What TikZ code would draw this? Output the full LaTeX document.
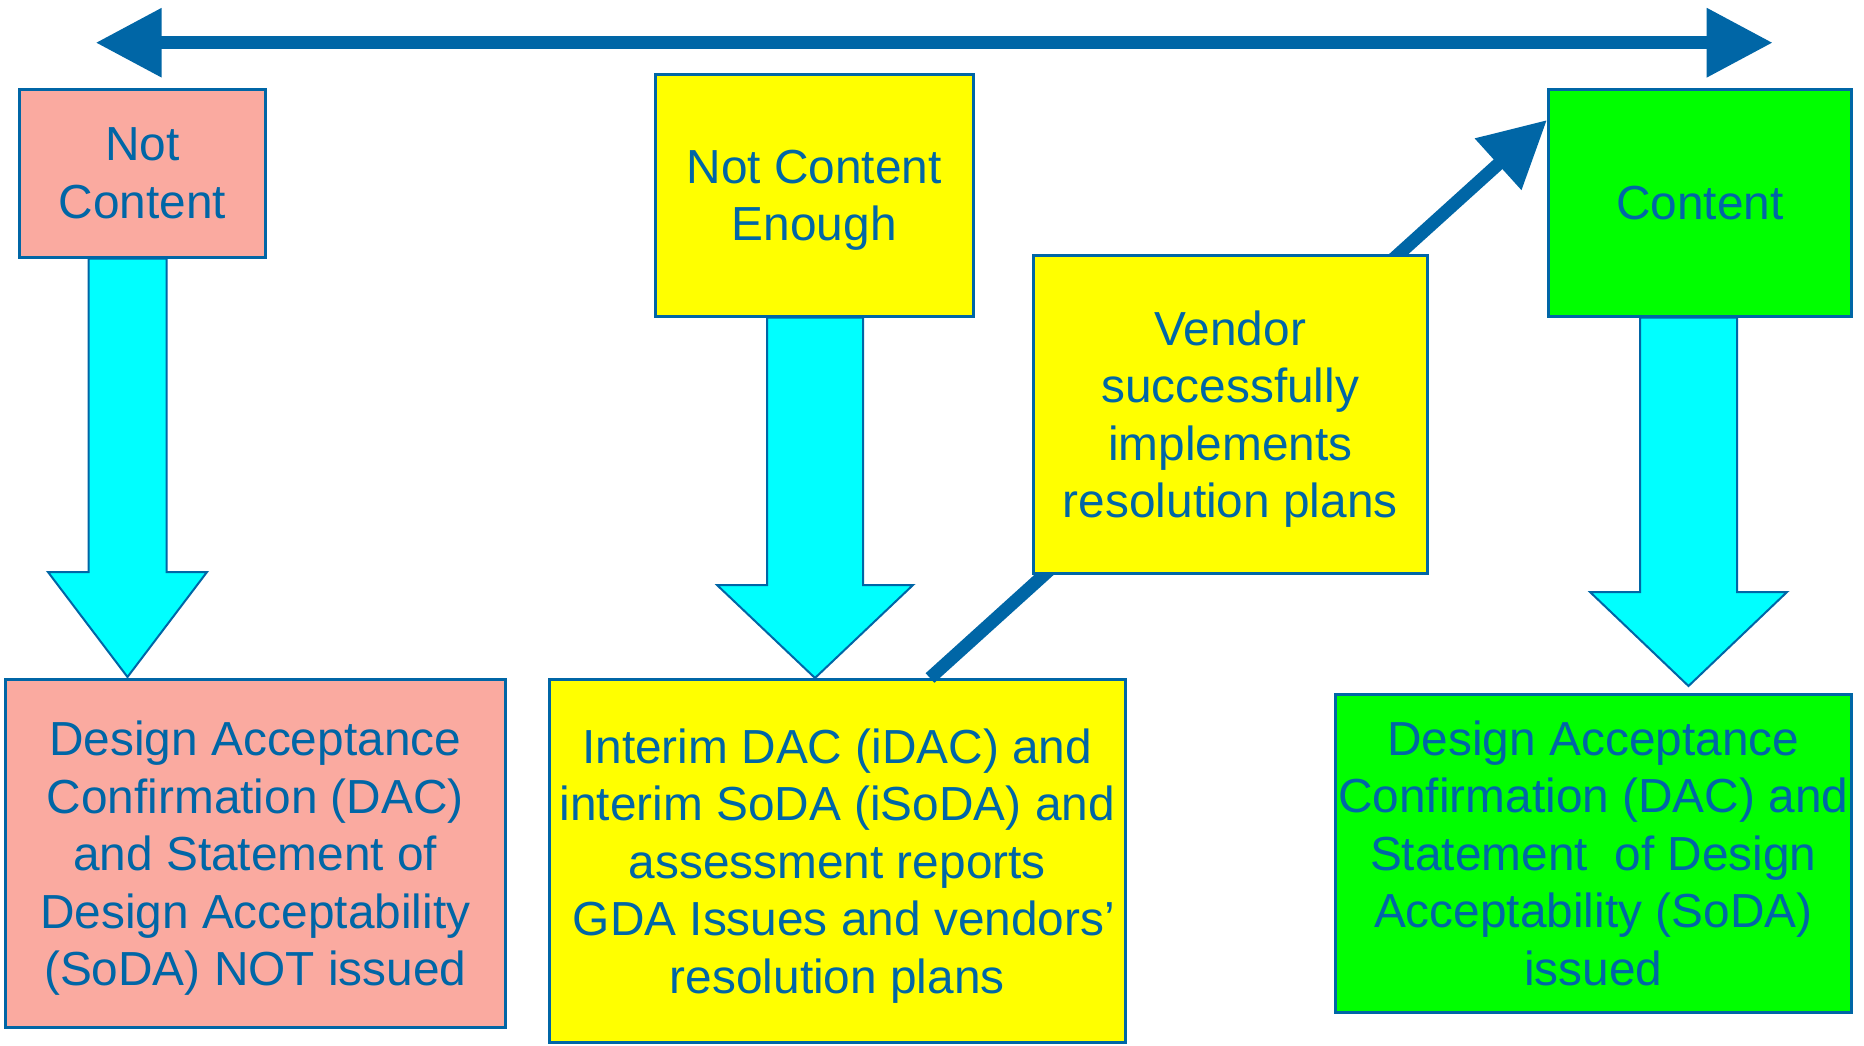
\documentclass[tikz,border=0pt]{standalone}
\usepackage{fontspec}
\setmainfont{Liberation Sans}
\usetikzlibrary{arrows.meta,calc}
\definecolor{tblue}{RGB}{0,102,166}
\definecolor{salmon}{RGB}{250,170,160}
\definecolor{yel}{RGB}{255,255,0}
\definecolor{grn}{RGB}{0,255,0}
\definecolor{cya}{RGB}{0,255,255}
\newcommand\nodp[1]{\raisebox{0pt}[\height][0pt]{#1}}
\newcommand\cyandown[7]{%
  \coordinate (cx) at (#3,0);
  \draw[cyanarrow] ($(cx |- #1.south)+(-#4,0)$) -- ($(cx |- #1.south)+(#4,0)$)
    -- ({#3+#4},#6) -- ({#3+#5},#6) -- ($(cx |- #2.north)+(0,-#7)$)
    -- ({#3-#5},#6) -- ({#3-#4},#6) -- cycle;}
\begin{document}
\begin{tikzpicture}[x=1pt,y=-1pt,
  box/.style={draw=tblue, line width=2.5pt, inner sep=0pt, align=center,
    text=tblue, font=\fontsize{47.8}{57.5}\selectfont, anchor=north west},
  cyanarrow/.style={fill=cya, draw=tblue, line width=2pt, line join=miter},
  bluearrow/.style={draw=tblue, line width=13pt,
    -{Triangle[length=66pt,width=66pt]}},
  bothhead/.style={draw=tblue, line width=13pt,
    {Triangle[length=66pt,width=66pt]}-{Triangle[length=66pt,width=66pt]}}]
\fill[white] (0,0) rectangle (1864,1045);
\useasboundingbox (0,0) rectangle (1864,1045);

% top double arrow
\coordinate (la) at (95.7,42.7);
\coordinate (ra) at (1772.7,42.7);
\draw[bothhead] (la) -- (ra);

% top boxes
\node[box, fill=salmon, minimum width=246pt, minimum height=168pt] (nc) at (18,88) {Not\\Content};
\node[box, fill=yel, minimum width=318pt, minimum height=242pt] (nce) at (654,73) {Not Content\\\nodp{Enough}};
\node[box, fill=grn, minimum width=303pt, minimum height=227pt] (cc) at (1547,88) {Content};

% bottom boxes
\node[box, fill=salmon, minimum width=500pt, minimum height=348pt] (db) at (4,678)
  {Design Acceptance\\Confirmation (DAC)\\and Statement of\\Design Acceptability\\\nodp{(SoDA) NOT issued}};
\node[box, fill=yel, minimum width=576pt, minimum height=363pt] (ib) at (548,678)
  {Interim DAC (iDAC) and\\interim SoDA (iSoDA) and\\assessment reports\\\hspace*{0.278em}GDA Issues and vendors’\\\nodp{resolution plans}};
\node[box, fill=grn, minimum width=516pt, minimum height=318pt] (gb) at (1334,693)
  {Design Acceptance\\Confirmation (DAC) and\\Statement\ \ of Design\\Acceptability (SoDA)\\issued};

% diagonal arrow (behind the vendor box)
\coordinate (dstart) at (930,0);
\draw[bluearrow] (dstart |- ib.north) -- ($(cc.north west)+(0,32)$);

% vendor box
\node[box, fill=yel, minimum width=394pt, minimum height=318pt] (vd) at (1032,254)
  {Vendor\\successfully\\implements\\\nodp{resolution plans}};

% cyan block arrows
\cyandown{nc}{db}{127.5}{39}{79.5}{572}{1}
\cyandown{nce}{ib}{815}{48}{98}{585}{0}
\cyandown{cc}{gb}{1688.5}{48.5}{98.5}{592}{7}
\end{tikzpicture}
\end{document}
